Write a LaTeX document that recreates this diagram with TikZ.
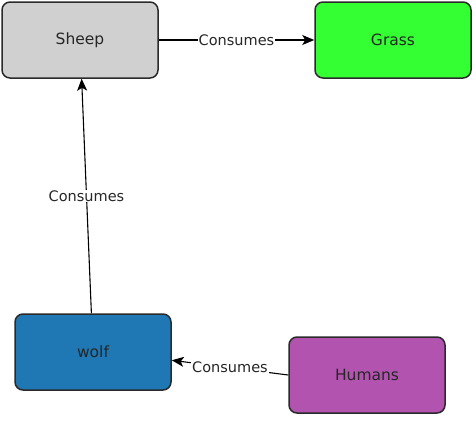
\documentclass[tikz,border=0pt]{standalone}
\usepackage{fontspec}
\setmainfont{DejaVu Sans}
\usetikzlibrary{arrows.meta}
\definecolor{sheepgray}{HTML}{D0D0D0}
\definecolor{grassgreen}{HTML}{33FF33}
\definecolor{wolfblue}{HTML}{1F77B4}
\definecolor{humanpurple}{HTML}{B353B0}
\definecolor{edgegray}{HTML}{2A2A2A}
\tikzset{
  entity/.style={draw=edgegray,line width=1.5pt,rounded corners=8pt,minimum width=156pt,minimum height=76pt,inner sep=0pt,font=\fontsize{15.5}{18}\selectfont,text=black!85},
  rel/.style={-{Stealth[length=12pt,width=10pt,inset=3pt]},line width=1.1pt,black},
  rellabel/.style={fill=white,inner sep=1pt,font=\fontsize{14.5}{17}\selectfont,text=black!85}
}
\begin{document}
\begin{tikzpicture}[x=1pt,y=-1pt]
\useasboundingbox (0,0) rectangle (476,421);
\node[entity,fill=sheepgray] (sheep) at (80,40) {Sheep};
\node[entity,fill=grassgreen] (grass) at (393,40) {Grass};
\node[entity,fill=wolfblue] (wolf) at (93,352) {wolf};
\node[entity,fill=humanpurple] (humans) at (367,375) {Humans};
\draw[rel] (sheep.east) -- node[rellabel] {Consumes} (grass.west);
\draw[rel] (wolf) -- node[rellabel] {Consumes} (sheep);
\draw[rel] (humans.west) -- node[rellabel] {Consumes} (wolf.-6);
\end{tikzpicture}
\end{document}
